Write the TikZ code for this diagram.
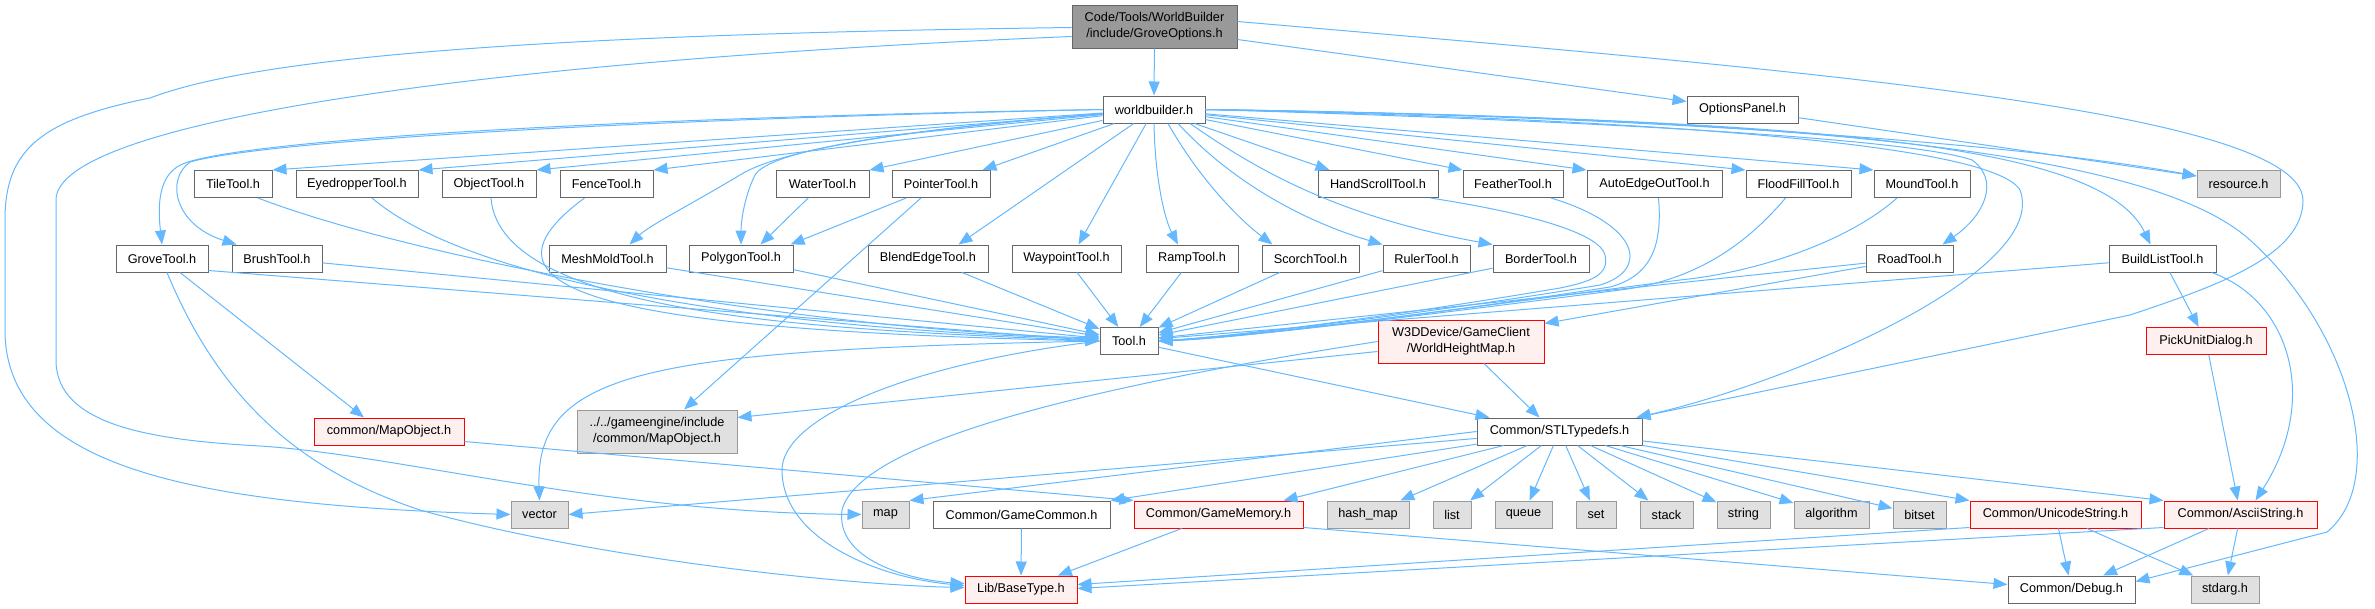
\documentclass[tikz,border=0pt]{standalone}
\usepackage{fontspec}
\setmainfont{Liberation Sans}
\usetikzlibrary{arrows.meta,calc}
\definecolor{edgec}{HTML}{63B8FF}
\definecolor{bordc}{HTML}{666666}
\definecolor{rootc}{HTML}{999999}
\definecolor{sysf}{HTML}{E0E0E0}
\definecolor{sysb}{HTML}{999999}
\definecolor{redf}{HTML}{FFF0F0}
\definecolor{redb}{HTML}{FF0000}
\tikzset{
  nd/.style={draw=bordc, fill=white, line width=1pt, inner sep=0pt, minimum height=27pt, font=\fontsize{12.7}{16}\selectfont, align=center, text=black},
  rootn/.style={nd, fill=rootc},
  sysn/.style={nd, draw=sysb, fill=sysf},
  redn/.style={nd, draw=redb, fill=redf},
  lnk/.style={draw=edgec, line width=1pt, -{Triangle[length=14pt,width=11pt]}}
}
\begin{document}
\begin{tikzpicture}[x=1pt,y=-1pt]
\useasboundingbox (0,0) rectangle (2375,608);
% nodes
\node[rootn, minimum width=165pt, minimum height=43pt] (root) at (1154.5,26.5) {Code/Tools/WorldBuilder\\/include/GroveOptions.h};
\node[nd, minimum width=102pt] (wb) at (1154,109.5) {worldbuilder.h};
\node[nd, minimum width=111pt] (op) at (1742.5,109.5) {OptionsPanel.h};
% row 2
\node[nd, minimum width=78pt] (tile) at (233,184) {TileTool.h};
\node[nd, minimum width=122pt] (eye) at (357,184) {EyedropperTool.h};
\node[nd, minimum width=94pt] (obj) at (489,184) {ObjectTool.h};
\node[nd, minimum width=93pt] (fence) at (606.5,184) {FenceTool.h};
\node[nd, minimum width=93pt] (water) at (822.5,184) {WaterTool.h};
\node[nd, minimum width=98pt] (ptr) at (941,184) {PointerTool.h};
\node[nd, minimum width=120pt] (hs) at (1378,184) {HandScrollTool.h};
\node[nd, minimum width=100pt] (feather) at (1513,184) {FeatherTool.h};
\node[nd, minimum width=135pt] (aeo) at (1654.5,184) {AutoEdgeOutTool.h};
\node[nd, minimum width=105pt] (ff) at (1798.5,184) {FloodFillTool.h};
\node[nd, minimum width=96pt] (mound) at (1922,184) {MoundTool.h};
\node[sysn, minimum width=83pt] (res) at (2238.5,184) {resource.h};
% row 3
\node[nd, minimum width=92pt] (grove) at (162,258.5) {GroveTool.h};
\node[nd, minimum width=90pt] (brush) at (277,258.5) {BrushTool.h};
\node[nd, minimum width=117pt] (mesh) at (607.5,258.5) {MeshMoldTool.h};
\node[nd, minimum width=104pt] (poly) at (741,258.5) {PolygonTool.h};
\node[nd, minimum width=120pt] (blend) at (928,258.5) {BlendEdgeTool.h};
\node[nd, minimum width=109pt] (wp) at (1066.5,258.5) {WaypointTool.h};
\node[nd, minimum width=92pt] (ramp) at (1192,258.5) {RampTool.h};
\node[nd, minimum width=97pt] (scorch) at (1310.5,258.5) {ScorchTool.h};
\node[nd, minimum width=87pt] (ruler) at (1426.5,258.5) {RulerTool.h};
\node[nd, minimum width=96pt] (border) at (1541,258.5) {BorderTool.h};
\node[nd, minimum width=87pt] (road) at (1909.5,258.5) {RoadTool.h};
\node[nd, minimum width=107pt] (bl) at (2162.5,258.5) {BuildListTool.h};
% middle
\node[nd, minimum width=58pt] (tool) at (1129,341) {Tool.h};
\node[redn, minimum width=166pt, minimum height=43pt] (w3d) at (1461,341.5) {W3DDevice/GameClient\\/WorldHeightMap.h};
\node[redn, minimum width=120pt] (pick) at (2206,341) {PickUnitDialog.h};
\node[redn, minimum width=150pt] (cmo) at (389,431.5) {common/MapObject.h};
\node[sysn, minimum width=160pt, minimum height=43pt] (ge) at (657,431.5) {../../gameengine/include\\/common/MapObject.h};
\node[nd, minimum width=165pt] (stl) at (1559.5,431.5) {Common/STLTypedefs.h};
% row 5
\node[sysn, minimum width=57pt] (vector) at (539.5,514.5) {vector};
\node[sysn, minimum width=47pt] (map) at (885.5,514.5) {map};
\node[nd, minimum width=177pt] (gc) at (1021.5,514.5) {Common/GameCommon.h};
\node[redn, minimum width=169pt] (gmem) at (1218.5,514.5) {Common/GameMemory.h};
\node[sysn, minimum width=82pt] (hm) at (1368,514.5) {hash\_map};
\node[sysn, minimum width=38pt] (list) at (1452,514.5) {list};
\node[sysn, minimum width=57pt] (queue) at (1523.5,514.5) {queue};
\node[sysn, minimum width=40pt] (set) at (1596,514.5) {set};
\node[sysn, minimum width=53pt] (stack) at (1666.5,514.5) {stack};
\node[sysn, minimum width=53pt] (string) at (1743.5,514.5) {string};
\node[sysn, minimum width=75pt] (algo) at (1831.5,514.5) {algorithm};
\node[sysn, minimum width=53pt] (bitset) at (1919.5,514.5) {bitset};
\node[redn, minimum width=171pt] (us) at (2055.5,514.5) {Common/UnicodeString.h};
\node[redn, minimum width=153pt] (ascii) at (2240.5,514.5) {Common/AsciiString.h};
% bottom
\node[redn, minimum width=112pt] (bt) at (1021,589.5) {Lib/BaseType.h};
\node[nd, minimum width=127pt] (dbg) at (2071.5,589.5) {Common/Debug.h};
\node[sysn, minimum width=68pt] (stdarg) at (2225,589.5) {stdarg.h};

% ---- edges from root
\draw[lnk] (root) -- (wb);
\draw[lnk] ($(root.east)+(0,13)$) -- ($(op.west)+(0,-8)$);
\draw[lnk] ($(root.east)+(0,-5)$) .. controls (1800,70) and (2300,110) .. (2303,200) .. controls (2303,255) and (2220,285) .. (2130,315) -- ($(stl.north east)+(-6,0)$);
\draw[lnk] ($(root.west)+(0,1)$) .. controls (500,35) and (250,60) .. (150,98) .. controls (40,120) and (5,150) .. (5,220) -- (5,330) .. controls (5,470) and (200,505) .. (vector.west);
\draw[lnk] ($(root.west)+(0,10)$) .. controls (500,60) and (56,120) .. (56,200) -- (56,360) .. controls (56,425) and (150,440) .. (260,446) .. controls (400,455) and (600,512) .. (map.west);
\draw[lnk] (op) -- ($(res.west)+(0,-8)$);

% ---- worldbuilder to row 2
\draw[lnk] (wb) -- (tile.north east);
\draw[lnk] (wb) -- (eye.north east);
\draw[lnk] (wb) -- (obj.north east);
\draw[lnk] (wb) -- (fence.north east);
\draw[lnk] (wb) -- (water.north east);
\draw[lnk] (wb) -- ($(ptr.north east)+(-8,0)$);
\draw[lnk] (wb) -- ($(hs.north west)+(12,0)$);
\draw[lnk] (wb) -- (feather.north west);
\draw[lnk] (wb) -- (aeo.north west);
\draw[lnk] (wb) -- (ff.north west);
\draw[lnk] (wb) -- (mound.north west);
\draw[lnk] (wb.east) .. controls (1600,115) and (2000,140) .. ($(res.west)+(0,-8)$);

% ---- worldbuilder to row 3
\draw[lnk] (wb.west) .. controls (600,118) and (250,140) .. (185,163) .. controls (160,172) and (157,200) .. (grove.north);
\draw[lnk] (wb.west) .. controls (600,120) and (260,142) .. (190,162) .. controls (165,180) and (175,225) .. ($(brush.north west)+(5,0)$);
\draw[lnk] (wb) .. controls (900,130) and (780,150) .. (740,175) .. controls (690,205) and (650,225) .. ($(mesh.north)+(22,0)$);
\draw[lnk] (wb) .. controls (900,130) and (770,150) .. (755,175) .. controls (745,195) and (741,220) .. (poly.north);
\draw[lnk] (wb) -- ($(blend.north east)+(-30,0)$);
\draw[lnk] (wb) -- ($(wp.north)+(12,0)$);
\draw[lnk] (wb.south) .. controls (1155,180) and (1165,220) .. ($(ramp.north)+(-14,0)$);
\draw[lnk] ($(wb.south)+(14,0)$) .. controls (1200,180) and (1240,220) .. ($(scorch.north)+(-38,0)$);
\draw[lnk] ($(wb.south)+(24,0)$) .. controls (1230,180) and (1300,220) .. (ruler.north west);
\draw[lnk] ($(wb.south)+(36,0)$) .. controls (1250,165) and (1330,215) .. (border.north west);
\draw[lnk] (wb.east) .. controls (1500,118) and (1900,135) .. (1972,160) .. controls (2000,180) and (1985,215) .. ($(road.north)+(33,0)$);
\draw[lnk] (wb.east) .. controls (1800,120) and (2100,140) .. ($(bl.north)+(-12,0)$);
\draw[lnk] (wb.east) .. controls (1600,118) and (1990,140) .. (2020,190) .. controls (2050,270) and (1800,380) .. ($(stl.north east)+(-6,0)$);
\draw[lnk] (wb.east) .. controls (1800,118) and (2150,150) .. (2250,240) .. controls (2350,330) and (2390,480) .. (2327,532) -- ($(dbg.east)+(0,-8)$);

% ---- row 2 others
\draw[lnk] (water) -- ($(poly.north east)+(-33,0)$);
\draw[lnk] (ptr) -- ($(poly.north east)+(-3,0)$);
\draw[lnk] ($(ptr.south)+(-20,0)$) -- ($(ge.north)+(27,0)$);

% ---- into Tool.h
\draw[lnk] ($(tile.south)+(25,0)$) .. controls (420,260) and (800,330) .. ($(tool.west)+(0,-3)$);
\draw[lnk] ($(eye.south)+(15,0)$) .. controls (480,290) and (800,330) .. ($(tool.west)+(0,-2)$);
\draw[lnk] ($(obj.south)+(2,0)$) .. controls (500,320) and (850,330) .. (tool.west);
\draw[lnk] ($(fence.south)+(-22,0)$) .. controls (460,290) and (600,330) .. (tool.west);
\draw[lnk] ($(grove.south east)+(0,-2)$) -- (tool.west);
\draw[lnk] (brush) -- (tool);
\draw[lnk] (mesh) -- (tool);
\draw[lnk] (poly) -- (tool);
\draw[lnk] (blend) -- (tool);
\draw[lnk] (wp) -- (tool);
\draw[lnk] (ramp) -- (tool);
\draw[lnk] (scorch) -- (tool);
\draw[lnk] (ruler) -- (tool);
\draw[lnk] (border) -- (tool);
\draw[lnk] ($(hs.south east)+(-8,0)$) .. controls (1540,215) and (1600,235) .. (1605,255) .. controls (1610,275) and (1590,282) .. (1560,288) .. controls (1400,315) and (1250,335) .. (tool.east);
\draw[lnk] ($(feather.south)+(38,0)$) .. controls (1640,225) and (1650,270) .. (1600,285) .. controls (1450,310) and (1250,335) .. (tool.east);
\draw[lnk] ($(aeo.south)+(4,0)$) .. controls (1662,240) and (1655,275) .. (1610,287) .. controls (1450,312) and (1250,336) .. (tool.east);
\draw[lnk] ($(ff.south)+(-13,0)$) .. controls (1750,240) and (1700,280) .. (1620,290) .. controls (1450,312) and (1250,337) .. (tool.east);
\draw[lnk] ($(mound.south)+(-25,0)$) .. controls (1850,240) and (1760,272) .. (1680,280) .. controls (1450,310) and (1250,338) .. (tool.east);
\draw[lnk] (road) -- (tool);
\draw[lnk] (bl) -- (tool);
\draw[lnk] ($(road.west)+(0,8)$) -- ($(w3d.east)+(0,-18)$);

% ---- Tool.h, W3D, grove
\draw[lnk] (tool) -- ($(stl.north west)+(13,0)$);
\draw[lnk] (tool.west) .. controls (650,350) and (535,370) .. (vector.north);
\draw[lnk] (tool.west) .. controls (900,365) and (782,420) .. (782,470) .. controls (782,540) and (880,578) .. ($(bt.west)+(0,-4)$);
\draw[lnk] ($(w3d.south)+(23,0)$) -- ($(stl.north)+(-20,0)$);
\draw[lnk] ($(w3d.west)+(0,10)$) -- ($(ge.east)+(0,-14)$);
\draw[lnk] (w3d.west) .. controls (1100,385) and (860,440) .. (842,510) .. controls (835,560) and (910,580) .. ($(bt.west)+(0,-6)$);
\draw[lnk] ($(grove.south)+(18,0)$) -- ($(cmo.north)+(-25,0)$);
\draw[lnk] ($(grove.south)+(5,0)$) .. controls (220,400) and (300,470) .. (420,510) .. controls (600,560) and (850,585) .. ($(bt.west)+(0,-2)$);
\draw[lnk] ($(cmo.east)+(0,10)$) -- (gmem.north west);

% ---- BuildList / PickUnit
\draw[lnk] (bl) -- (pick);
\draw[lnk] ($(bl.south east)+(-5,0)$) .. controls (2290,300) and (2320,400) .. ($(ascii.north)+(15,0)$);
\draw[lnk] (pick) -- (ascii);

% ---- STLTypedefs
\draw[lnk] (stl) -- (vector.east);
\draw[lnk] (stl.west) -- (map.north east);
\draw[lnk] (stl) -- (gc.north east);
\draw[lnk] (stl) -- ($(gmem.north east)+(-20,0)$);
\draw[lnk] (stl) -- (hm);
\draw[lnk] (stl) -- (list);
\draw[lnk] (stl) -- (queue);
\draw[lnk] (stl) -- (set);
\draw[lnk] (stl) -- (stack);
\draw[lnk] (stl) -- (string);
\draw[lnk] (stl) -- (algo);
\draw[lnk] (stl) -- (bitset);
\draw[lnk] (stl) -- (us.north west);
\draw[lnk] (stl) -- (ascii.north west);

% ---- bottom
\draw[lnk] (gc) -- (bt);
\draw[lnk] (gmem) -- (bt);
\draw[lnk] ($(gmem.south east)+(0,-1)$) -- ($(dbg.west)+(0,-5)$);
\draw[lnk] ($(us.south west)+(0,-1)$) -- ($(bt.east)+(0,-5)$);
\draw[lnk] ($(ascii.south west)+(0,-1)$) -- ($(bt.east)+(0,-1)$);
\draw[lnk] (us) -- (dbg);
\draw[lnk] (us) -- (stdarg);
\draw[lnk] (ascii) -- (dbg);
\draw[lnk] (ascii) -- (stdarg);
\end{tikzpicture}
\end{document}
